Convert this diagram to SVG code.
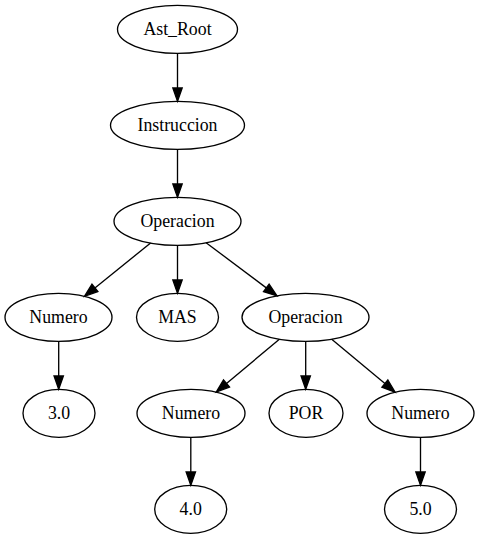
<svg xmlns="http://www.w3.org/2000/svg" width="479" height="539" viewBox="0 0 479 539">
<style>
.n ellipse{fill:none;stroke:#000;stroke-width:1.33}
.n text{font-family:"Liberation Serif","Times New Roman",serif;font-size:17.8px;text-anchor:middle;fill:#000}
#edges path{fill:none;stroke:#000;stroke-width:1.33}
</style>
<defs>
<marker id="ah" markerUnits="userSpaceOnUse" viewBox="-1 -6 16 12" markerWidth="16" markerHeight="12" refX="0" refY="0" orient="auto" overflow="visible">
<polygon points="0,-4.67 13.33,0 0,4.67" fill="#000" stroke="#000" stroke-width="1.33"/>
</marker>
</defs>
<rect width="479" height="539" fill="#fff"/>
<g id="edges">
<path d="M177.5,53.3 L177.5,88" marker-end="url(#ah)"/>
<path d="M177.5,149.3 L177.5,184" marker-end="url(#ah)"/>
<path d="M177.5,245.3 L177.5,280" marker-end="url(#ah)"/>
<path d="M150.6,243 L94.9,287.9" marker-end="url(#ah)"/>
<path d="M206.1,242.7 L266.3,287.9" marker-end="url(#ah)"/>
<path d="M58.7,341.3 L58.7,376" marker-end="url(#ah)"/>
<path d="M279.4,339.2 L226.5,383.5" marker-end="url(#ah)"/>
<path d="M305.7,341.3 L305.7,376" marker-end="url(#ah)"/>
<path d="M331.7,339.2 L384.9,383.6" marker-end="url(#ah)"/>
<path d="M190.8,437.3 L190.8,472" marker-end="url(#ah)"/>
<path d="M420.5,437.3 L420.5,472" marker-end="url(#ah)"/>
</g>
<g id="ast_root" class="n"><ellipse cx="177.5" cy="29.3" rx="60" ry="24"/><text x="177.5" y="34.7">Ast_Root</text></g>
<g id="instruccion" class="n"><ellipse cx="177.5" cy="125.3" rx="67" ry="24"/><text x="177.5" y="130.7">Instruccion</text></g>
<g id="operacion1" class="n"><ellipse cx="177.5" cy="221.3" rx="63.5" ry="24"/><text x="177.5" y="226.7">Operacion</text></g>
<g id="numero1" class="n"><ellipse cx="58.5" cy="317.3" rx="53.5" ry="24"/><text x="58.5" y="322.7">Numero</text></g>
<g id="mas" class="n"><ellipse cx="177.5" cy="317.3" rx="41" ry="24"/><text x="177.5" y="322.7">MAS</text></g>
<g id="operacion2" class="n"><ellipse cx="305.5" cy="317.3" rx="63.5" ry="24"/><text x="305.5" y="322.7">Operacion</text></g>
<g id="val30" class="n"><ellipse cx="59" cy="413.3" rx="36" ry="24"/><text x="59" y="418.7">3.0</text></g>
<g id="numero2" class="n"><ellipse cx="191" cy="413.3" rx="54" ry="24"/><text x="191" y="418.7">Numero</text></g>
<g id="por" class="n"><ellipse cx="306" cy="413.3" rx="37" ry="24"/><text x="306" y="418.7">POR</text></g>
<g id="numero3" class="n"><ellipse cx="420.5" cy="413.3" rx="53.5" ry="24"/><text x="420.5" y="418.7">Numero</text></g>
<g id="val40" class="n"><ellipse cx="190.7" cy="509.3" rx="36" ry="24"/><text x="190.7" y="514.7">4.0</text></g>
<g id="val50" class="n"><ellipse cx="420.5" cy="509.3" rx="36" ry="24"/><text x="420.5" y="514.7">5.0</text></g>
</svg>
